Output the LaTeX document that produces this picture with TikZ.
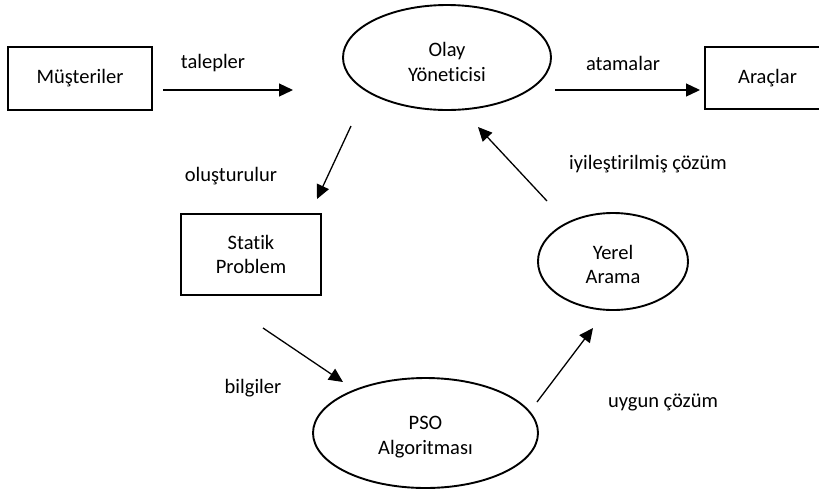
\documentclass[tikz,border=0pt]{standalone}
\usepackage{fontspec}
\setmainfont[Ligatures=NoCommon]{Carlito}
\usetikzlibrary{shapes.geometric,arrows.meta}
\begin{document}
\begin{tikzpicture}[x=1pt,y=-1pt,
  font=\fontsize{20.5}{24.5}\selectfont,
  box/.style={draw, line width=1.9pt, inner sep=0pt, align=center},
  oval/.style={ellipse, draw, line width=1.9pt, inner sep=0pt, align=center},
  txt/.style={inner sep=0pt, align=center},
  arr/.style={-{Triangle[length=14pt,width=13pt]}, line width=1.3pt},
  lbl/.style={inner sep=0pt}]
\useasboundingbox (0,0) rectangle (819,491);
% nodes
\node[box, minimum width=144, minimum height=63] (mus) at (80,78.5) {Müşteriler};
\node[oval, minimum width=208, minimum height=105] (olay) at (447,57.5) {};
\node[txt] (olaytxt) at (447,62) {Olay\\Yöneticisi};
\node[box, minimum width=125, minimum height=62] (arac) at (767.5,78) {Araçlar};
\node[box, minimum width=140, minimum height=81] (statik) at (251,254.5) {Statik\\Problem};
\node[oval, minimum width=150, minimum height=97] (yerel) at (613,261.5) {};
\node[txt] (yereltxt) at (613,264.5) {Yerel\\Arama};
\node[oval, minimum width=225, minimum height=110] (pso) at (425.5,433) {};
\node[txt] (psotxt) at (425.5,437) {PSO\\Algoritması};
% free arrow ends
\coordinate (t1) at (163,90);  \coordinate (t2) at (293,90);
\coordinate (a1) at (555,90);  \coordinate (a2) at (700,90);
\coordinate (o1) at (351,126); \coordinate (o2) at (317,199);
\coordinate (i1) at (547,201); \coordinate (i2) at (478,127);
\coordinate (b1) at (263,328); \coordinate (b2) at (343,382);
\coordinate (u1) at (537,402); \coordinate (u2) at (593,328);
\draw[arr] (t1) -- (t2);
\draw[arr] (a1) -- (a2);
\draw[arr] (o1) -- (o2);
\draw[arr] (i1) -- (i2);
\draw[arr] (b1) -- (b2);
\draw[arr] (u1) -- (u2);
% labels
\node[lbl] (lt) at (213,63) {talepler};
\node[lbl] (la) at (623,63) {atamalar};
\node[lbl] (lo) at (231,176) {oluşturulur};
\node[lbl] (li) at (648,164) {iyileştirilmiş çözüm};
\node[lbl] (lb) at (253,388) {bilgiler};
\node[lbl] (lu) at (663,402) {uygun çözüm};
\end{tikzpicture}
\end{document}
